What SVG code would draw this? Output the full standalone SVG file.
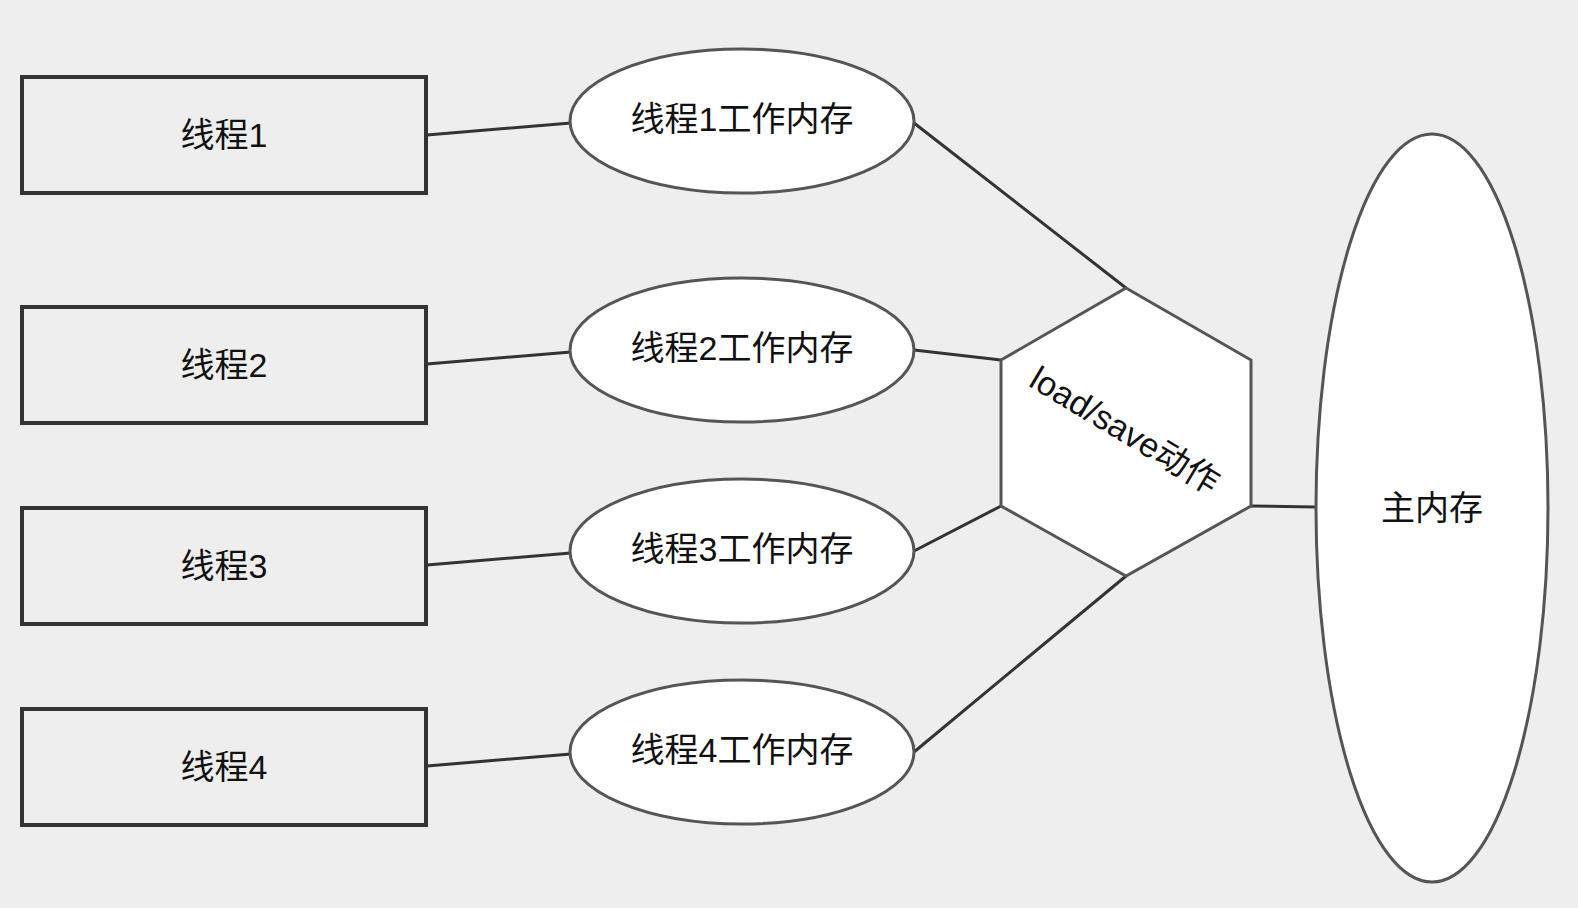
<svg xmlns="http://www.w3.org/2000/svg" width="1578" height="908" viewBox="0 0 1578 908">
<style>
.box{fill:#eeeeee;stroke:#333333;stroke-width:4}
.ell{fill:#ffffff;stroke:#555555;stroke-width:3}
.hex{fill:#ffffff;stroke:#555555;stroke-width:3}
.edge{fill:none;stroke:#333333;stroke-width:3}
.t{font-family:"Liberation Sans","Noto Sans CJK SC",sans-serif;font-size:34px;fill:#111111;text-anchor:middle}
</style>
<rect x="0" y="0" width="1578" height="908" fill="#eeeeee"/>
<g id="connectors">
<line class="edge" x1="427" y1="135" x2="571" y2="123"/>
<line class="edge" x1="427" y1="364" x2="571" y2="352"/>
<line class="edge" x1="427" y1="565" x2="571" y2="553"/>
<line class="edge" x1="427" y1="766" x2="571" y2="754"/>
<line class="edge" x1="914" y1="123" x2="1126" y2="288"/>
<line class="edge" x1="914" y1="350" x2="1001" y2="360"/>
<line class="edge" x1="914" y1="551" x2="1001" y2="506"/>
<line class="edge" x1="914" y1="752" x2="1126" y2="576"/>
<line class="edge" x1="1251" y1="506" x2="1316" y2="507"/>
</g>
<g id="thread1"><rect class="box" x="22" y="77" width="404" height="116"/><text class="t" x="224" y="147">线程1</text></g>
<g id="thread2"><rect class="box" x="22" y="307" width="404" height="116"/><text class="t" x="224" y="377">线程2</text></g>
<g id="thread3"><rect class="box" x="22" y="508" width="404" height="116"/><text class="t" x="224" y="578">线程3</text></g>
<g id="thread4"><rect class="box" x="22" y="709" width="404" height="116"/><text class="t" x="224" y="779">线程4</text></g>
<g id="wm1"><ellipse class="ell" cx="742" cy="121" rx="172" ry="72"/><text class="t" x="742" y="131">线程1工作内存</text></g>
<g id="wm2"><ellipse class="ell" cx="742" cy="350" rx="172" ry="72"/><text class="t" x="742" y="360">线程2工作内存</text></g>
<g id="wm3"><ellipse class="ell" cx="742" cy="551" rx="172" ry="72"/><text class="t" x="742" y="561">线程3工作内存</text></g>
<g id="wm4"><ellipse class="ell" cx="742" cy="752" rx="172" ry="72"/><text class="t" x="742" y="762">线程4工作内存</text></g>
<g id="loadsave"><polygon class="hex" points="1126,288 1251,360 1251,506 1126,576 1001,506 1001,360"/><text class="t" x="1125" y="442" transform="rotate(31 1125 430)">load/save动作</text></g>
<g id="mainmem"><ellipse class="ell" cx="1432" cy="508" rx="116" ry="374"/><text class="t" x="1432" y="520">主内存</text></g>
</svg>
